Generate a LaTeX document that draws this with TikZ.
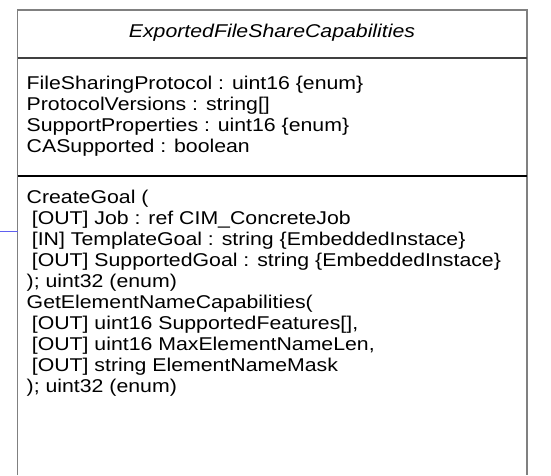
\documentclass[tikz,border=0pt]{standalone}
\usepackage{fontspec}
\setmainfont{Liberation Sans}[FakeStretch=1.15]
\usetikzlibrary{positioning}

\definecolor{linkblue}{RGB}{96,96,240}
\newcommand{\ind}{\hspace*{0.278em}}

\begin{document}
\begin{tikzpicture}[x=1pt,y=-1pt,
  classtext/.style={font=\fontsize{18.5}{21}\selectfont, align=left, inner sep=0pt, anchor=north west},
  frame/.style={draw=black!50, line width=1.5pt}]
\useasboundingbox (0,0) rectangle (551,475);

% Draw the class box (open at the bottom)
\draw[frame] (17.5,475) -- (17.5,10) -- (527,10) -- (527,475);
\draw[line width=1.5pt, black!75] (17.5,58) -- (527,58);
\draw[line width=2pt, black] (17.5,176) -- (527,176);

% class name
\node[font=\fontsize{18.5}{21}\selectfont\itshape] (name) at (272,33) {ExportedFileShareCapabilities};

% attributes
\node[classtext] (attrs) at (26.5,76) {FileSharingProtocol : uint16 \{enum\}\\
ProtocolVersions : string[]\\
SupportProperties : uint16 \{enum\}\\
CASupported : boolean};

% methods
\node[classtext] (methods) at (26.5,190) {CreateGoal (\\
\ind[OUT] Job : ref CIM\_ConcreteJob\\
\ind[IN] TemplateGoal : string \{EmbeddedInstace\}\\
\ind[OUT] SupportedGoal : string \{EmbeddedInstace\}\\
); uint32 (enum)\\
GetElementNameCapabilities(\\
\ind[OUT] uint16 SupportedFeatures[],\\
\ind[OUT] uint16 MaxElementNameLen,\\
\ind[OUT] string ElementNameMask\\
); uint32 (enum)};

% link coming in from the left
\coordinate (linkstart) at (0,231);
\coordinate (linkend) at (17.5,231);
\draw[linkblue, line width=1pt] (linkstart) -- (linkend);
\end{tikzpicture}
\end{document}
